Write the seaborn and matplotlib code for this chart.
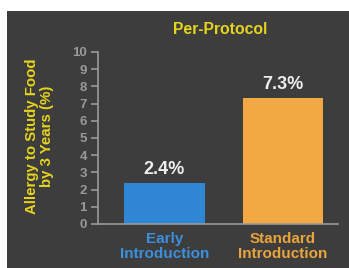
import numpy as np
import pandas as pd
import matplotlib
matplotlib.use("Agg")
import matplotlib.pyplot as plt
import seaborn as sns
from matplotlib.patches import Rectangle

groups = ["Early\nIntroduction", "Standard\nIntroduction"]
allergy_pct = [2.4, 7.3]
bar_colors = ["#2f86d4", "#f2a943"]
label_colors = ["#3c8fdc", "#e9a43c"]
yticks = list(range(0, 11))

sns.set_style("dark")
plt.rcParams['font.family'] = ['Liberation Sans', 'DejaVu Sans']
plt.rcParams['font.weight'] = 'bold'

bg = "#3d3d3d"
yellow = "#e6d41c"
gray = "#9a9a9a"

fig = plt.figure(figsize=(3.49, 2.68), dpi=100)
fig.patch.set_facecolor("white")
fig.add_artist(Rectangle((7 / 349, 0), 1, 1 - 11 / 268, transform=fig.transFigure,
                         facecolor=bg, edgecolor="none", zorder=0))

ax = fig.add_axes([98 / 349, 44 / 268, 240 / 349, 172 / 268])
ax.set_facecolor("none")

df = pd.DataFrame({"group": groups, "pct": allergy_pct})
sns.barplot(data=df, x="group", y="pct", hue="group", palette=bar_colors,
            width=0.68, legend=False, ax=ax, saturation=1, linewidth=0,
            edgecolor="none")

ax.set_ylim(0, 10)
ax.set_xlim(-0.561, 1.464)
ax.set_yticks(yticks)
ax.set_xlabel("")
ax.set_ylabel("")
ax.grid(False)
for s in ["top", "right"]:
    ax.spines[s].set_visible(False)
for s in ["left", "bottom"]:
    ax.spines[s].set_visible(True)
    ax.spines[s].set_color(gray)
    ax.spines[s].set_linewidth(1.2)
ax.tick_params(axis="y", colors=gray, labelsize=9.5, length=5, width=1.2,
               direction="out", left=True, pad=3)
ax.tick_params(axis="x", length=0, labelsize=11, pad=6)
for lbl in ax.get_yticklabels():
    lbl.set_fontweight("bold")
for lbl, c in zip(ax.get_xticklabels(), label_colors):
    lbl.set_color(c)
    lbl.set_fontweight("bold")
    lbl.set_linespacing(1.1)

for i, v in enumerate(allergy_pct):
    ax.text(i, v + 0.3, f"{v}%", ha="center", va="bottom", color="#eeeeee",
            fontsize=13, fontweight="bold")

fig.text(220 / 349, 1 - 30 / 268, "Per-Protocol", ha="center", va="center",
         color=yellow, fontsize=11.3, fontweight="bold")
fig.text(39.5 / 349, 1 - 136 / 268, "Allergy to Study Food\nby 3 Years (%)",
         ha="center", va="center", rotation=90, color=yellow, fontsize=10.8,
         fontweight="bold", linespacing=1.15)

fig.savefig("out.png", dpi=100, facecolor=fig.get_facecolor())
